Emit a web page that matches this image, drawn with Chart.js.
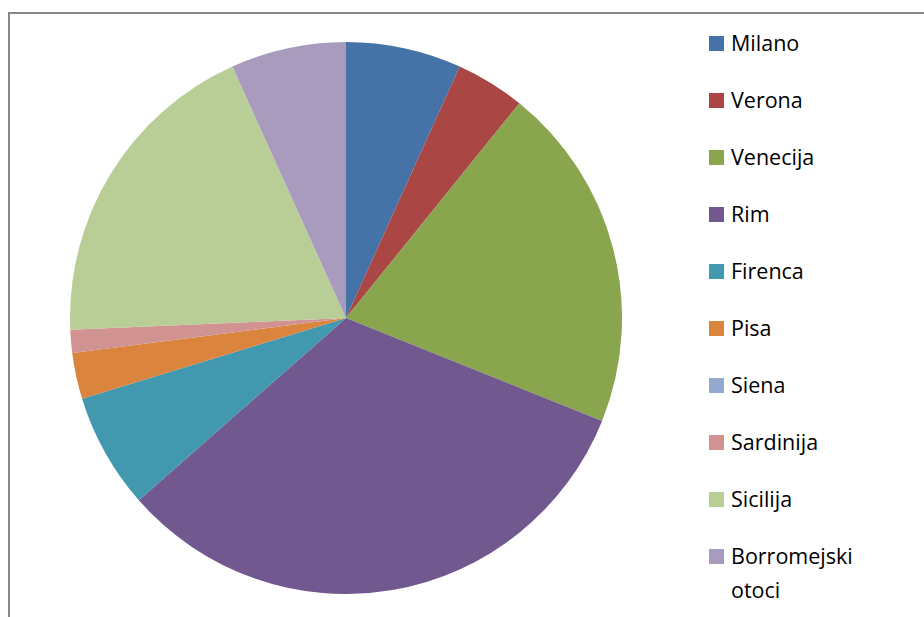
<!DOCTYPE html>
<html>
<head>
<meta charset="utf-8">
<script src="https://cdn.jsdelivr.net/npm/chart.js@4"></script>
<style>
  html, body { margin: 0; padding: 0; background: #fff; }
  body { width: 924px; height: 617px; position: relative; overflow: hidden; font-family: "Open Sans", sans-serif; }
  #frame { position: absolute; left: 8px; top: 12px; width: 930px; height: 620px; border-top: 2px solid #868686; border-left: 2px solid #868686; }
  #wrap { position: absolute; left: 70px; top: 42px; width: 552px; height: 552px; }
  #legend { position: absolute; left: 709px; top: 26px; }
  .item { position: absolute; left: 0; width: 200px; font-size: 21.5px; line-height: 34px; color: #000; }
  .item span.box { position: absolute; left: 0; top: 10px; width: 15px; height: 15px; }
  .item span.txt { position: absolute; left: 22px; top: 0; white-space: nowrap; }
</style>
</head>
<body>
<div id="frame"></div>
<div id="wrap"><canvas id="myChart_pie"></canvas></div>
<div id="legend"></div>
<script>
// podaci
var gradovi = ['Milano', 'Verona', 'Venecija', 'Rim', 'Firenca', 'Pisa', 'Siena', 'Sardinija', 'Sicilija', 'Borromejski otoci'];
var vrijednosti = [5, 3, 15, 24, 5, 2, 0, 1, 14, 5];
var boje = ['#4572A7', '#AA4643', '#89A54E', '#71588F', '#4198AF', '#DB843D', '#93A9CF', '#D19392', '#B9CD96', '#A99BBD'];

var ctx = document.getElementById("myChart_pie");
var myChart = new Chart(ctx, {
    type: 'pie',
    data: {
        labels: gradovi,
        datasets: [{
            data: vrijednosti,
            backgroundColor: boje,
            borderWidth: 0
        }]
    },
    options: {
        responsive: true,
        maintainAspectRatio: false,
        animation: false,
        layout: { padding: 0 },
        plugins: {
            legend: { display: false },
            tooltip: { enabled: false }
        }
    }
});

// legenda sa strane (html)
var leg = document.getElementById('legend');
myChart.data.labels.forEach(function(lbl, i) {
    var d = document.createElement('div');
    d.className = 'item';
    d.style.top = (i * 57) + 'px';
    var txt = lbl === 'Borromejski otoci' ? 'Borromejski<br>otoci' : lbl;
    d.innerHTML = '<span class="box" style="background:' + boje[i] + '"></span><span class="txt">' + txt + '</span>';
    leg.appendChild(d);
});
</script>
</body>
</html>
